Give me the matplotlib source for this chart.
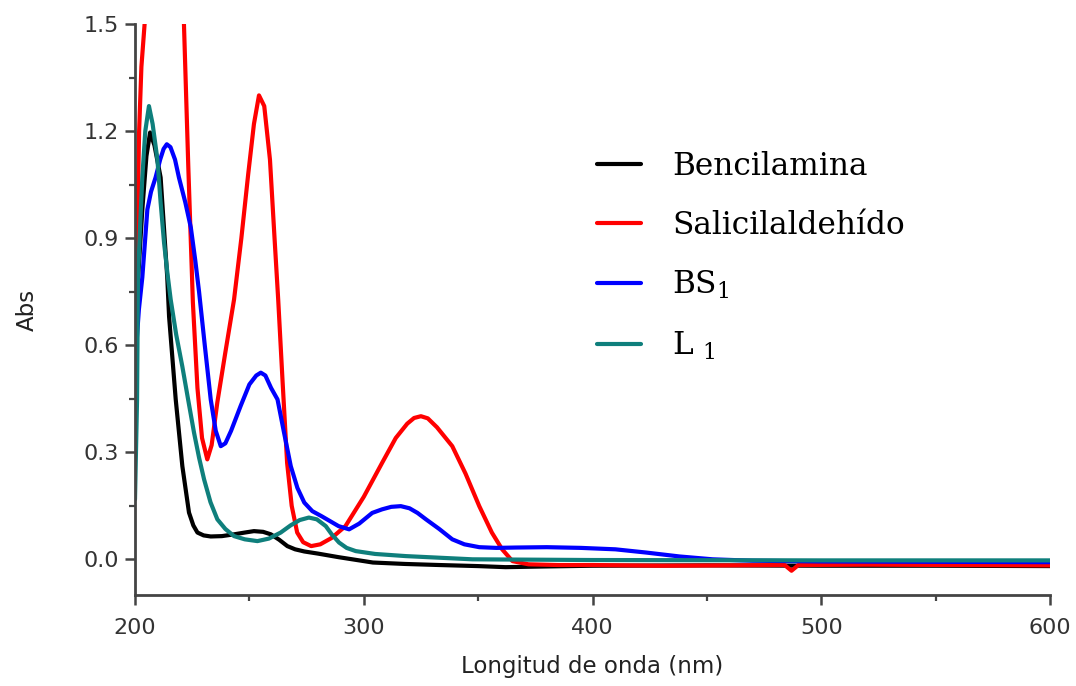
import matplotlib
matplotlib.use("Agg")
import matplotlib.pyplot as plt
from matplotlib.ticker import MultipleLocator, FormatStrFormatter

# ---- data ----
labels = ["Bencilamina", "Salicilaldehído", r"BS$_{\mathrm{1}}$", r"L $_{\mathrm{1}}$"]
colors = ["#000000", "#ff0000", "#0000ff", "#0f7f7c"]

x_benc = [200, 200.7, 203.2, 205, 206.6, 208.5, 211.2, 214.1, 214.9, 217.8, 220.7, 223.6, 225.5,
          227.3, 230, 233.1, 238, 243.3, 248, 252, 256, 259.4, 263, 266.6, 270, 274, 280, 289, 295,
          304, 318, 333, 350, 362, 380, 400, 450, 500, 550, 600]
y_benc = [0.35, 0.72, 0.98, 1.13, 1.196, 1.16, 1.07, 0.79, 0.68, 0.448, 0.261, 0.131, 0.095,
          0.075, 0.067, 0.064, 0.065, 0.07, 0.075, 0.079, 0.077, 0.07, 0.055, 0.037, 0.028, 0.022,
          0.016, 0.006, 0.0, -0.009, -0.013, -0.016, -0.019, -0.022, -0.02, -0.018, -0.017,
          -0.018, -0.018, -0.019]

x_sal = [200, 200.8, 201.8, 202.8, 204.2, 206, 210, 213, 217, 220, 221.4, 223.3, 225.3, 227.3,
         229.3, 231.6, 233.5, 236, 239.5, 243.3, 246.5, 249.5, 252, 254.2, 256.5, 259, 261, 262.6,
         264.5, 266.5, 268.5, 270.9, 273.5, 277, 281, 286, 292, 300, 308, 314, 319, 322, 325, 328,
         332, 338.7, 344.5, 350.5, 356, 360.5, 365, 372, 385, 400, 430, 460, 484, 487, 490, 520,
         560, 600]
y_sal = [0.6, 0.85, 1.2, 1.38, 1.5, 1.65, 1.85, 1.9, 1.82, 1.62, 1.5, 1.1, 0.72, 0.48,
         0.34, 0.28, 0.32, 0.44, 0.58, 0.728, 0.9, 1.08, 1.22, 1.30, 1.27, 1.12, 0.9, 0.728,
         0.5, 0.27, 0.15, 0.075, 0.048, 0.037, 0.042, 0.06, 0.093, 0.175, 0.27, 0.34, 0.38, 0.396,
         0.401, 0.395, 0.37, 0.317, 0.24, 0.149, 0.075, 0.028, -0.005, -0.014, -0.016, -0.016,
         -0.018, -0.017, -0.016, -0.032, -0.016, -0.015, -0.016, -0.017]

x_bs1 = [200, 201.7, 203.2, 205.4, 207, 209, 211, 212.5, 213.9, 215.5, 217.5, 219.2, 222, 224.4,
         226.3, 228, 230.5, 233.1, 235.3, 237.5, 239.5, 242, 246.2, 250, 253, 255, 257, 259.5,
         262.3, 265, 268.1, 271, 274, 277.5, 281.5, 285, 289, 293.6, 298, 303.7, 308, 312, 316.2,
         320, 323.5, 327.2, 333, 338.7, 344, 350.5, 358, 366.5, 380, 395, 410, 423.4, 438, 452.5,
         470, 500, 550, 600]
y_bs1 = [0.546, 0.70, 0.79, 0.98, 1.03, 1.07, 1.12, 1.15, 1.163, 1.155, 1.12, 1.07, 1.0, 0.93,
         0.84, 0.75, 0.6, 0.448, 0.36, 0.317, 0.325, 0.36, 0.43, 0.49, 0.515, 0.523, 0.515, 0.48,
         0.448, 0.36, 0.261, 0.2, 0.159, 0.135, 0.121, 0.108, 0.093, 0.084, 0.1, 0.13, 0.14, 0.147,
         0.149, 0.143, 0.13, 0.112, 0.085, 0.056, 0.042, 0.034, 0.032, 0.033, 0.034, 0.032, 0.028,
         0.019, 0.008, 0.0, -0.004, -0.006, -0.007, -0.008]

x_l1 = [200, 200.9, 201.3, 202.2, 203.2, 204.5, 206.1, 207.7, 209.8, 211.2, 212.7, 214.2, 215.6,
        218, 220.7, 223.3, 225.8, 228, 230.2, 233, 236, 239.5, 243.3, 248, 253.5, 258.5, 263.7,
        268, 272, 276, 279.5, 283.4, 286, 289.2, 292.5, 296.5, 305, 318.4, 347.5, 400, 500, 600]
y_l1 = [0.168, 0.448, 0.79, 0.93, 1.07, 1.2, 1.27, 1.22, 1.12, 1.0, 0.887, 0.8, 0.728,
        0.63, 0.54, 0.445, 0.355, 0.285, 0.224, 0.16, 0.112, 0.085, 0.065, 0.056, 0.051, 0.058,
        0.075, 0.095, 0.11, 0.117, 0.112, 0.093, 0.07, 0.047, 0.032, 0.023, 0.015, 0.009, 0.0,
        -0.002, -0.003, -0.003]

xs = [x_benc, x_sal, x_bs1, x_l1]
ys = [y_benc, y_sal, y_bs1, y_l1]

# ---- styling ----
plt.rcParams['font.family'] = ['DejaVu Sans']
plt.rcParams['mathtext.fontset'] = 'custom'
plt.rcParams['mathtext.rm'] = 'DejaVu Serif'
plt.rcParams['mathtext.it'] = 'DejaVu Serif:italic'

fig = plt.figure(figsize=(10.76, 6.86), dpi=100)
ax = fig.add_axes([135/1076, 1 - 595/686, (1050 - 135)/1076, (595 - 24)/686])

for x, y, c, lab in zip(xs, ys, colors, labels):
    ax.plot(x, y, color=c, lw=3.0, label=lab, solid_joinstyle='round', solid_capstyle='round')

ax.set_xlim(200, 600)
ax.set_ylim(-0.1, 1.5)
ax.xaxis.set_major_locator(MultipleLocator(100))
ax.xaxis.set_minor_locator(MultipleLocator(50))
ax.yaxis.set_major_locator(MultipleLocator(0.3))
ax.yaxis.set_minor_locator(MultipleLocator(0.15))
ax.yaxis.set_major_formatter(FormatStrFormatter('%.1f'))

for s in ['top', 'right']:
    ax.spines[s].set_visible(False)
for s in ['left', 'bottom']:
    ax.spines[s].set_color('#444444')
    ax.spines[s].set_linewidth(2.0)

ax.tick_params(which='major', direction='out', length=7.5, width=1.8, color='#444444',
               labelsize=16, labelcolor='#333333', pad=4)
ax.tick_params(axis='x', which='major', pad=9)
ax.tick_params(which='minor', direction='out', length=4.5, width=1.6, color='#444444')

ax.set_xlabel('Longitud de onda (nm)', fontsize=16.5, color='#222222', labelpad=12)
ax.set_ylabel('Abs', fontsize=16.5, color='#222222', labelpad=32)

leg = ax.legend(loc='upper left', bbox_to_anchor=(597/1076, 1 - 151/686),
                bbox_transform=fig.transFigure, frameon=False,
                prop={'family': 'DejaVu Serif', 'size': 22.5},
                handlelength=1.4, handletextpad=1.0, labelspacing=0.9,
                borderpad=0, borderaxespad=0)

fig.savefig('out.png', dpi=100)
